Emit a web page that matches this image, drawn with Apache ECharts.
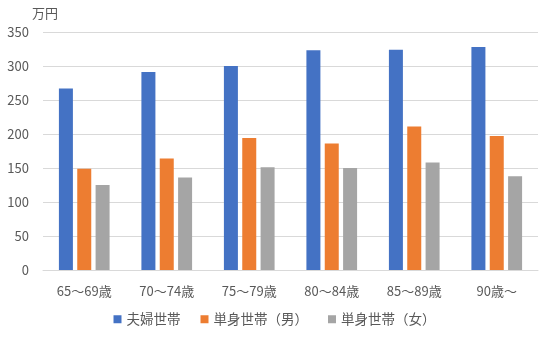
<!DOCTYPE html>
<html><head><meta charset="utf-8">
<script src="https://cdn.jsdelivr.net/npm/echarts@6/dist/echarts.min.js"></script>
<style>html,body{margin:0;padding:0;background:#fff}#c{width:549px;height:339px}</style>
</head><body><div id="c"></div>
<script>
const categories = ['65～69歳','70～74歳','75～79歳','80～84歳','85～89歳','90歳～'];
const seriesNames = ['夫婦世帯','単身世帯（男）','単身世帯（女）'];
const couple = [267, 291, 300, 323, 324, 328];
const singleMale = [149, 164, 194, 186, 211, 197];
const singleFemale = [125, 136, 151, 150, 158, 138];
const yTicks = [0, 50, 100, 150, 200, 250, 300, 350];
const colors = ['#4472C4','#ED7D31','#A5A5A5'];
const font = '"Noto Sans CJK JP", "Noto Sans", sans-serif';
const chart = echarts.init(document.getElementById('c'), null, {renderer:'canvas'});
const values = [couple, singleMale, singleFemale];
chart.setOption({
  animation:false,
  color: colors,
  textStyle:{fontFamily:font},
  grid:{left:43,right:11,top:32,bottom:69,containLabel:false},
  legend:{
    bottom:8, left:'center', itemWidth:8, itemHeight:8, itemGap:20, icon:'rect',
    textStyle:{color:'#595959',fontSize:13.5,fontFamily:font}
  },
  xAxis:{
    type:'category', data:categories,
    axisLine:{lineStyle:{color:'#D9D9D9',width:1}},
    axisTick:{show:false},
    axisLabel:{color:'#595959',fontSize:13,margin:15,fontFamily:font}
  },
  yAxis:{
    type:'value', min:yTicks[0], max:yTicks[yTicks.length-1], interval:50,
    name:'万円', nameLocation:'end', nameGap:12,
    nameTextStyle:{color:'#595959',fontSize:13,fontFamily:font,padding:[0,0,0,4]},
    axisLine:{show:false}, axisTick:{show:false},
    axisLabel:{color:'#595959',fontSize:13,margin:14,fontFamily:font},
    splitLine:{lineStyle:{color:'#D9D9D9',width:1}}
  },
  series: seriesNames.map((n,i)=>({
    name:n, type:'bar', data:values[i], barWidth:14, barGap:'31%',
    itemStyle:{color:colors[i]}
  }))
});
</script></body></html>
